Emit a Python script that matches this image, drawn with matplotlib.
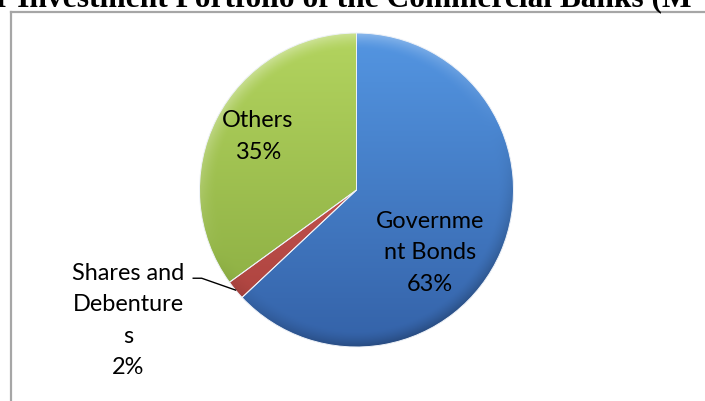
import numpy as np
import matplotlib
matplotlib.use("Agg")
import matplotlib.pyplot as plt
from matplotlib.colors import to_rgb
from matplotlib.lines import Line2D

# Portfolio composition (percent)
categories = ["Government Bonds", "Shares and Debentures", "Others"]
shares = [63, 2, 35]
label_texts = ["Governme\nnt Bonds", "Shares and\nDebenture\ns", "Others"]
pct_texts = ["63%", "2%", "35%"]
colors_top = ["#5496E2", "#DB625D", "#B3D45F"]
colors_bottom = ["#3462A8", "#A63F3B", "#87A93F"]
title_prefix = "r "
title_body = "Investment Portfolio of the Commercial Banks "
title_tail = "(M"

W, H = 705, 401
fig = plt.figure(figsize=(W / 100, H / 100), dpi=100)
renderer = fig.canvas.get_renderer()

# chart frame (runs off the right and bottom edges)
frame_kw = dict(color="#A6A6A6", linewidth=1.6, transform=fig.transFigure)
fig.add_artist(Line2D([10.5 / W, 1.01], [1 - 11.5 / H, 1 - 11.5 / H], **frame_kw))
fig.add_artist(Line2D([10.5 / W, 10.5 / W], [1 - 11.5 / H, -0.01], **frame_kw))


# clipped title: size it so the body spans from x=18 px to x=650 px
def text_width(s, size):
    t = fig.text(0, 0, s, fontsize=size, fontweight="bold", family="Liberation Serif")
    wpx = t.get_window_extent(renderer).width
    t.remove()
    return wpx


base = 22.0
body_w = text_width(title_body.replace(" ", "\u00a0"), base)
tsize = base * (650 - 18) / body_w
prefix_w = text_width(title_prefix.replace(" ", "\u00a0"), tsize)
fig.text((18 - prefix_w) / W, 1 - 6.5 / H, title_prefix + title_body + title_tail,
         ha="left", va="baseline", fontsize=tsize, fontweight="bold",
         family="Liberation Serif")

cx, cy, r = 356.5, 190, 157
ax = fig.add_axes([(cx - r) / W, (H - cy - r) / H, 2 * r / W, 2 * r / H])
wedges, _ = ax.pie(shares, startangle=90, counterclock=False,
                   colors=colors_top, radius=1, center=(0, 0),
                   wedgeprops=dict(edgecolor="#EEF2F8", linewidth=0.7))
ax.set_xlim(-1, 1)
ax.set_ylim(-1, 1)
ax.set_aspect("equal")
ax.axis("off")

# shaded fill for each wedge: vertical gradient plus bevelled rim
n = 400
xs = np.linspace(-1, 1, n)
X, Y = np.meshgrid(xs, xs[::-1])
R = np.hypot(X, Y)
t = (1 - Y) / 2
rim = np.clip((R - 0.90) / 0.10, 0, 1) ** 1.5
light = np.clip((-X * 0.4 + Y * 0.9) / np.maximum(R, 1e-6), -1, 1)
for w, ctop, cbot in zip(wedges, colors_top, colors_bottom):
    a = np.array(to_rgb(ctop))
    b = np.array(to_rgb(cbot))
    img = a[None, None, :] * (1 - t[..., None]) + b[None, None, :] * t[..., None]
    shade = rim * light
    up = np.clip(shade, 0, 1)[..., None]
    dn = np.clip(-shade, 0, 1)[..., None]
    img = img + (1 - img) * up * 0.35
    img = img * (1 - dn * 0.25)
    im = ax.imshow(np.clip(img, 0, 1), extent=[-1, 1, -1, 1], zorder=w.get_zorder() + 0.1,
                   interpolation="bilinear")
    im.set_clip_path(w)
    w.set_facecolor("none")
    w.set_zorder(w.get_zorder() + 0.2)

label_kw = dict(fontsize=16.9, family="Lato", color="black", ha="center",
                va="center", multialignment="center", linespacing=1.62)

# Government Bonds
ax.text(0.47, -0.40, label_texts[0] + "\n" + pct_texts[0], **label_kw)
# Others
ax.text(-0.627, 0.34, label_texts[2] + "\n" + pct_texts[2], **label_kw)
# Shares and Debentures, outside with leader line
ax.text(-1.455, -0.83, label_texts[1] + "\n" + pct_texts[1], clip_on=False, **label_kw)
wd = wedges[1]
mid = np.deg2rad((wd.theta1 + wd.theta2) / 2)
ex, ey = np.cos(mid), np.sin(mid)
ax.add_line(Line2D([-1.04, -0.986, ex], [-0.562, -0.562, ey], color="black",
                   linewidth=1.0, clip_on=False, zorder=10))

fig.savefig("out.png", dpi=100)
